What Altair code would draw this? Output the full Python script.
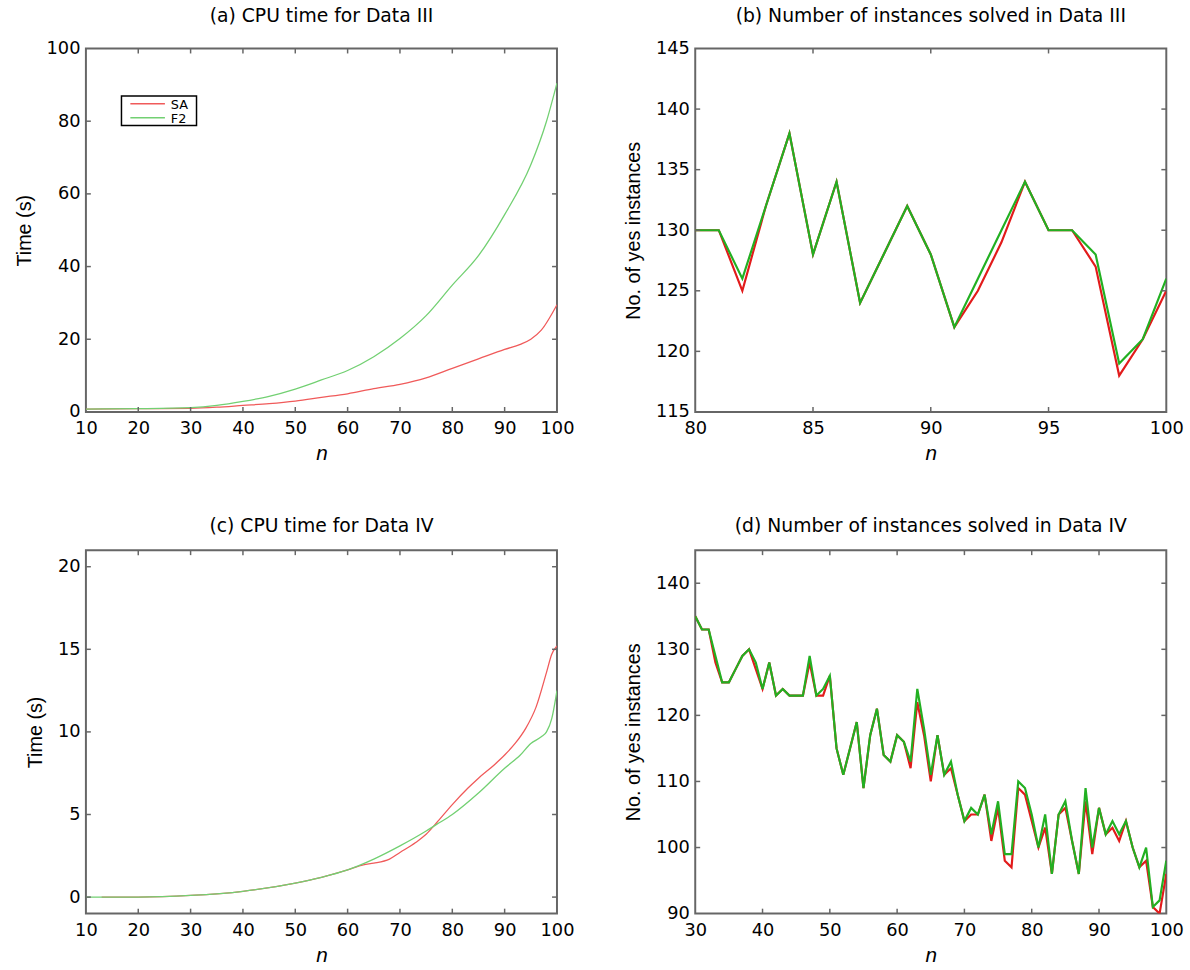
import altair as alt
import pandas as pd

# ---------------- data ----------------
# (a) CPU time, Data III
a_n_sa = [10, 20, 30, 35, 40, 45, 50, 55, 60, 65, 70, 75, 80, 85, 90, 93, 95, 97, 100]
a_t_sa = [0.8, 0.9, 1.0, 1.3, 1.8, 2.3, 3.0, 4.0, 5.0, 6.4, 7.6, 9.4, 12.0, 14.6, 17.2, 18.6, 20.0, 22.5, 29.5]
a_n_f2 = [10, 20, 30, 35, 40, 45, 50, 55, 60, 65, 70, 75, 80, 85, 90, 95, 98, 100]
a_t_f2 = [0.8, 0.9, 1.2, 1.8, 2.9, 4.3, 6.3, 8.8, 11.4, 15.2, 20.2, 26.5, 34.9, 43.0, 54.3, 68.0, 80.0, 90.5]

# (b) yes instances, Data III
b_n = list(range(80, 101))
b_sa = [130, 130, 125, 132, 138, 128, 134, 124, 128, 132, 128, 122, 125, 129, 134, 130, 130, 127, 118, 121, 125]
b_f2 = [130, 130, 126, 132, 138, 128, 134, 124, 128, 132, 128, 122, 126, 130, 134, 130, 130, 128, 119, 121, 126]

# (c) CPU time, Data IV
c_n_sa = [13, 20, 30, 40, 50, 55, 60, 63, 65, 68, 70, 73, 75, 77, 80, 83, 85, 88, 90, 92, 94, 96, 98, 99, 100]
c_t_sa = [0.0, 0.0, 0.1, 0.35, 0.85, 1.2, 1.65, 1.95, 2.05, 2.3, 2.7, 3.3, 3.8, 4.5, 5.6, 6.6, 7.2, 8.0, 8.6, 9.3, 10.2, 11.5, 13.6, 14.7, 15.2]
c_n_f2 = [10, 20, 30, 40, 50, 55, 60, 65, 70, 75, 77, 80, 85, 90, 93, 95, 97, 98, 99, 100]
c_t_f2 = [0.0, 0.0, 0.1, 0.35, 0.85, 1.2, 1.65, 2.3, 3.1, 4.0, 4.4, 5.0, 6.3, 7.8, 8.6, 9.3, 9.7, 10.0, 10.8, 12.5]

# (d) yes instances, Data IV
d_n = list(range(30, 101))
d_sa = [135, 133, 133, 128, 125, 125, 127, 129, 130, 127, 124, 128, 123, 124, 123, 123, 123, 128, 123, 123,
        126, 115, 111, 115, 119, 109, 117, 121, 114, 113, 117, 116, 112, 122, 117, 110, 117, 111, 112, 108,
        104, 105, 105, 108, 101, 106, 98, 97, 109, 108, 104, 100, 103, 96, 105, 106, 101, 96, 107, 99,
        106, 102, 103, 101, 104, 100, 97, 98, 91, 90, 96]
d_f2 = [135, 133, 133, 129, 125, 125, 127, 129, 130, 128, 124, 128, 123, 124, 123, 123, 123, 129, 123, 124,
        126, 115, 111, 115, 119, 109, 117, 121, 114, 113, 117, 116, 113, 124, 118, 111, 117, 111, 113, 108,
        104, 106, 105, 108, 102, 107, 99, 99, 110, 109, 105, 100, 105, 96, 105, 107, 101, 96, 109, 100,
        106, 102, 104, 102, 104, 100, 97, 100, 91, 92, 98]

series_names = ["SA", "F2"]

# ---------------- style ----------------
FONT = "DejaVu Sans"
YFONT = "Liberation Sans"
W, H = 477, 368
FRAME = "#666666"
LIGHT = {"SA": "#f05a5a", "F2": "#72d072"}
DARK = {"SA": "#e21b1b", "F2": "#22b022"}
LABEL_SIZE = 18
TITLE_SIZE = 19


def make_axes(xticks, yticks, ytitle):
    xaxis = alt.Axis(values=xticks, title="n", titleFontStyle="italic", titleFontSize=21,
                     titleFontWeight="normal", titleFont=YFONT, titleColor="black", titlePadding=5,
                     labelFont=FONT, labelFontSize=LABEL_SIZE, labelColor="black", labelFlush=False,
                     labelPadding=8, ticks=False, domain=False, grid=False, format="d")
    yaxis = alt.Axis(values=yticks, title=ytitle, titleFontSize=20, titleFontWeight="normal",
                     titleFont=YFONT, titleColor="black", titlePadding=12,
                     labelFont=FONT, labelFontSize=LABEL_SIZE, labelColor="black", labelFlush=False,
                     labelPadding=6, ticks=False, domain=False, grid=False, format="d")
    return xaxis, yaxis


def panel(sa_n, sa_v, f2_n, f2_v, xdom, ydom, xticks, yticks, title, ytitle, colors, sw, smooth, legend=False):
    xs = alt.Scale(domain=xdom, nice=False, zero=False)
    ys = alt.Scale(domain=ydom, nice=False, zero=False)
    xaxis, yaxis = make_axes(xticks, yticks, ytitle)
    X = alt.X("n:Q", scale=xs, axis=xaxis)
    Y = alt.Y("v:Q", scale=ys, axis=yaxis)
    interp = "monotone" if smooth else "linear"
    df_sa = pd.DataFrame({"n": sa_n, "v": sa_v})
    df_f2 = pd.DataFrame({"n": f2_n, "v": f2_v})
    line_sa = alt.Chart(df_sa).mark_line(color=colors["SA"], strokeWidth=sw, interpolate=interp, clip=True).encode(x=X, y=Y)
    line_f2 = alt.Chart(df_f2).mark_line(color=colors["F2"], strokeWidth=sw, interpolate=interp, clip=True).encode(x=X, y=Y)

    # inward ticks on all four sides (MATLAB style)
    xt = pd.DataFrame({"n": [v for v in xticks if xdom[0] < v < xdom[1]]})
    yt = pd.DataFrame({"v": [v for v in yticks if ydom[0] < v < ydom[1]]})
    L = 5
    bx = alt.Chart(xt).mark_rule(color=FRAME, strokeWidth=1.5)
    by = alt.Chart(yt).mark_rule(color=FRAME, strokeWidth=1.5)
    tick_layers = [
        bx.encode(x=X, y=alt.value(H), y2=alt.value(H - L)),
        bx.encode(x=X, y=alt.value(0), y2=alt.value(L)),
        by.encode(y=Y, x=alt.value(0), x2=alt.value(L)),
        by.encode(y=Y, x=alt.value(W), x2=alt.value(W - L)),
    ]
    layers = [line_sa, line_f2] + tick_layers
    if legend:
        one = pd.DataFrame({"label": ["x"]})
        box = alt.Chart(one).mark_rect(fill="white", stroke="black", strokeWidth=1.5).encode(
            x=alt.value(36), x2=alt.value(112), y=alt.value(48), y2=alt.value(78))
        layers.append(box)
        for i, name in enumerate(series_names):
            yy = 56 + i * 14
            d1 = pd.DataFrame({"label": [name]})
            layers.append(alt.Chart(d1).mark_rule(color=colors[name], strokeWidth=1.5).encode(
                x=alt.value(45), x2=alt.value(80), y=alt.value(yy)))
            layers.append(alt.Chart(d1).mark_text(align="left", baseline="middle", font=FONT,
                                                  fontSize=13, color="black").encode(
                x=alt.value(86), y=alt.value(yy + 1), text="label:N"))
    return alt.layer(*layers).properties(
        width=W, height=H,
        view=alt.ViewBackground(stroke=FRAME, strokeWidth=2, fill="white"),
        title=alt.TitleParams(title, font=FONT, fontSize=TITLE_SIZE, fontWeight="normal", color="black",
                              anchor="middle", offset=14))


pa = panel(a_n_sa, a_t_sa, a_n_f2, a_t_f2, [10, 100], [0, 100], list(range(10, 101, 10)),
           list(range(0, 101, 20)), "(a) CPU time for Data III", "Time (s)", LIGHT, 1.3, True, legend=True)
pb = panel(b_n, b_sa, b_n, b_f2, [80, 100], [115, 145], list(range(80, 101, 5)),
           list(range(115, 146, 5)), "(b) Number of instances solved in Data III", "No. of yes instances",
           DARK, 2.2, False)
pc = panel(c_n_sa, c_t_sa, c_n_f2, c_t_f2, [10, 100], [-1, 21], list(range(10, 101, 10)),
           list(range(0, 21, 5)), "(c) CPU time for Data IV", "Time (s)", LIGHT, 1.3, True)
pd_ = panel(d_n, d_sa, d_n, d_f2, [30, 100], [90, 145], list(range(30, 101, 10)),
            list(range(90, 141, 10)), "(d) Number of instances solved in Data IV", "No. of yes instances",
            DARK, 2.2, False)

chart = alt.vconcat(
    alt.hconcat(pa, pb, spacing=47),
    alt.hconcat(pc, pd_, spacing=47),
    spacing=52,
).properties(padding={"left": 13, "top": 0, "right": 5, "bottom": 0}).configure(background="white")

chart.save("out.html", embed_options={"renderer": "svg", "actions": False})
